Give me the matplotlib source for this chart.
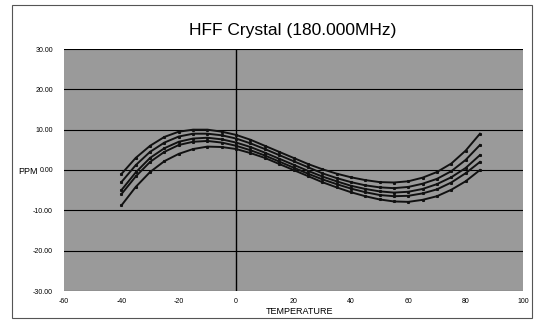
import matplotlib
matplotlib.use("Agg")
import matplotlib.pyplot as plt
from matplotlib.patches import Rectangle

temps = [-40, -35, -30, -25, -20, -15, -10, -5, 0, 5, 10, 15, 20, 25, 30, 35,
         40, 45, 50, 55, 60, 65, 70, 75, 80, 85]
curve_a = [-1.0, 3.0, 6.0, 8.2, 9.5, 10.0, 10.0, 9.5, 8.7, 7.5, 6.0, 4.5, 3.0,
           1.5, 0.2, -0.9, -1.8, -2.5, -3.0, -3.1, -2.8, -1.9, -0.5, 1.6, 4.8, 9.0]
curve_b = [-3.0, 1.2, 4.5, 6.8, 8.3, 9.0, 9.0, 8.6, 7.8, 6.6, 5.2, 3.7, 2.2,
           0.7, -0.8, -2.0, -3.0, -3.8, -4.3, -4.5, -4.2, -3.4, -2.2, -0.3, 2.5, 6.2]
curve_c = [-5.0, -0.6, 3.0, 5.4, 7.0, 7.8, 8.0, 7.6, 6.8, 5.7, 4.3, 2.8, 1.3,
           -0.2, -1.6, -2.8, -3.9, -4.7, -5.3, -5.6, -5.4, -4.7, -3.5, -1.8, 0.5, 3.7]
curve_d = [-6.0, -1.6, 2.0, 4.5, 6.2, 7.0, 7.2, 6.8, 6.0, 4.9, 3.6, 2.1, 0.6,
           -0.9, -2.3, -3.5, -4.6, -5.5, -6.2, -6.5, -6.4, -5.8, -4.8, -3.1, -0.8, 2.0]
curve_e = [-8.8, -4.2, -0.5, 2.2, 4.0, 5.2, 5.8, 5.7, 5.2, 4.2, 3.0, 1.5, 0.0,
           -1.5, -3.0, -4.3, -5.5, -6.5, -7.3, -7.8, -7.9, -7.4, -6.5, -4.9, -2.8, 0.0]
curves = [curve_a, curve_b, curve_c, curve_d, curve_e]

x_ticks = [-60, -40, -20, 0, 20, 40, 60, 80, 100]
y_ticks = [-30, -20, -10, 0, 10, 20, 30]
y_labels = ["-30.00", "-20.00", "-10.00", "0.00", "10.00", "20.00", "30.00"]

plt.rcParams['font.family'] = ['Liberation Sans', 'DejaVu Sans']

fig = plt.figure(figsize=(5.37, 3.23), dpi=100)
fig.patch.set_facecolor('white')
ax = fig.add_axes([64/537, 32/323, (523-64)/537, (291-49)/323])
ax.set_facecolor('#9a9a9a')

for yv in y_ticks:
    ax.axhline(yv, color='black', lw=0.8, zorder=1)
ax.axvline(0, color='black', lw=1.0, zorder=1)

for c in curves:
    ax.plot(temps, c, color='#111111', lw=1.4, marker='s', ms=1.2, zorder=3)

ax.set_xlim(-60, 100)
ax.set_ylim(-30, 30)
ax.set_xticks(x_ticks)
ax.set_xticklabels([str(t) for t in x_ticks], fontsize=5)
ax.set_yticks(y_ticks)
ax.set_yticklabels(y_labels, fontsize=5)
ax.tick_params(axis='x', length=0, pad=5)
ax.tick_params(axis='y', length=0, pad=8)
for s in ax.spines.values():
    s.set_visible(False)

fig.text(293/537, 1 - 30/323, "HFF Crystal (180.000MHz)", fontsize=12.5,
         ha='center', va='center')
fig.text(28/537, 1 - 171/323, "PPM", fontsize=6.5, ha='center', va='center')
fig.text(300/537, 1 - 312/323, "TEMPERATURE", fontsize=6.5, ha='center', va='center')

fig.patches.append(Rectangle((12/537, 5/323), (532-12)/537, (318-5)/323,
                             transform=fig.transFigure, fill=False,
                             edgecolor='#555555', lw=0.8))

fig.savefig("out.png", dpi=100)
